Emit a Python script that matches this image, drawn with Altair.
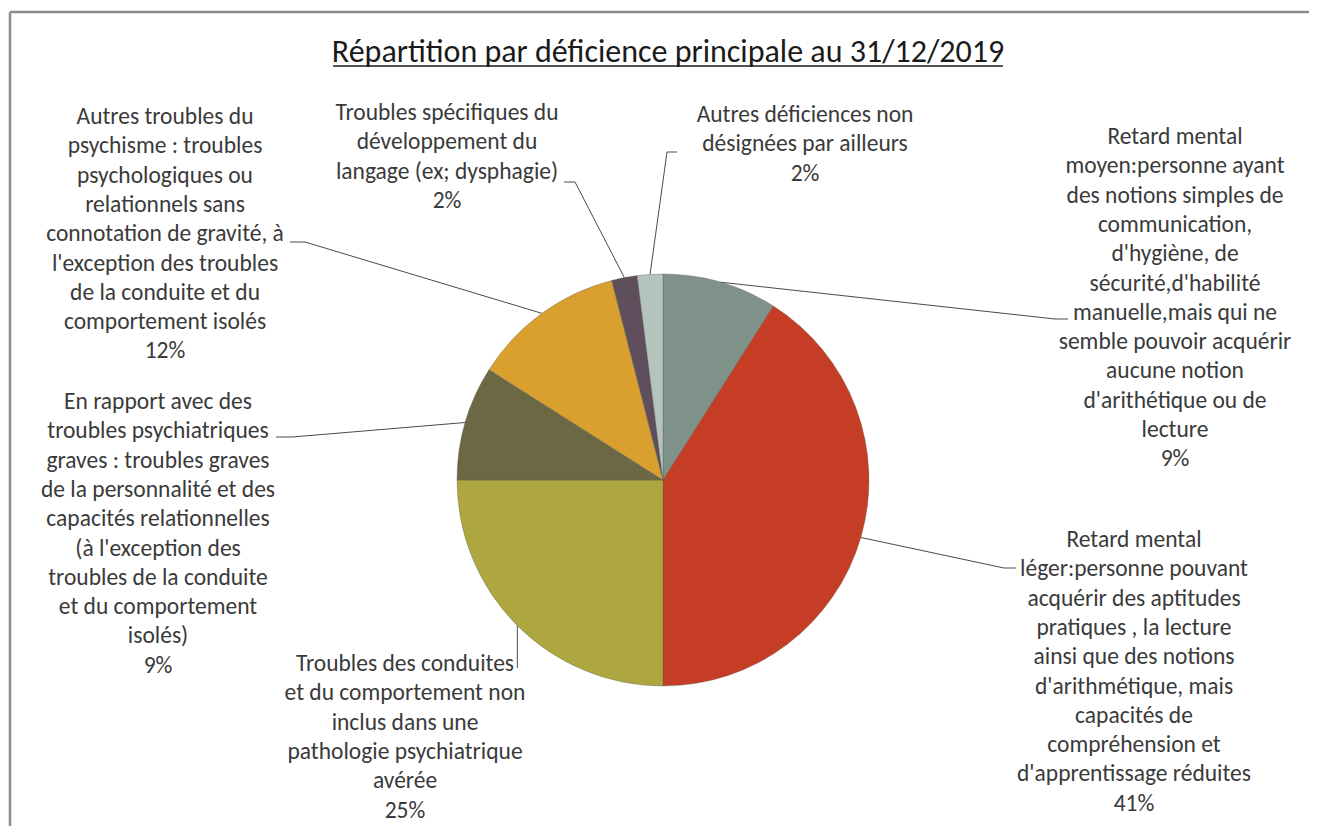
import altair as alt
import pandas as pd
import numpy as np

# ---------------- data ----------------
title_text = "Répartition par déficience principale au 31/12/2019"

categories = [
    "Retard mental\nmoyen:personne ayant\ndes notions simples de\ncommunication,\nd'hygiène, de\nsécurité,d'habilité\nmanuelle,mais qui ne\nsemble pouvoir acquérir\naucune notion\nd'arithétique ou de\nlecture",
    "Retard mental\nléger:personne pouvant\nacquérir des aptitudes\npratiques , la lecture\nainsi que des notions\nd'arithmétique, mais\ncapacités de\ncompréhension et\nd'apprentissage réduites",
    "Troubles des conduites\net du comportement non\ninclus dans une\npathologie psychiatrique\navérée",
    "En rapport avec des\ntroubles psychiatriques\ngraves : troubles graves\nde la personnalité et des\ncapacités relationnelles\n(à l'exception des\ntroubles de la conduite\net du comportement\nisolés)",
    "Autres troubles du\npsychisme : troubles\npsychologiques ou\nrelationnels sans\nconnotation de gravité, à\nl'exception  des troubles\nde la conduite et du\ncomportement isolés",
    "Troubles spécifiques du\ndéveloppement du\nlangage (ex; dysphagie)",
    "Autres déficiences non\ndésignées par ailleurs",
]
shares = [9, 41, 25, 9, 12, 2, 2]

# ---------------- style / layout ----------------
colors = ["#7f928a", "#c63d25", "#aea73f", "#6b6843", "#d9a030", "#5f4f5d", "#b4c3bb"]
FONT = "Carlito, Calibri, Lato, sans-serif"
W, H = 1301, 818
CX, CY, R = 655, 472, 206

# label position: centre x, first-line y (chart coords)
label_pos = [(1167, 129), (1126, 532), (397, 656), (150, 394), (157, 109), (439, 105), (797, 107)]
# leader elbow / end points (chart coords)
elbows = [(1047, 311), (996, 560), None, (284, 429), (297, 234), (567, 174), (659, 144)]
ends = [(1060, 311), (1008, 560), (None, 660), (268, 429), (282, 234), (556, 174), (669, 144)]

ids = [f"s{i}" for i in range(len(shares))]
pie_df = pd.DataFrame({"id": ids, "share": shares, "idx": range(len(shares))})

lab_df = pd.DataFrame({
    "id": ids,
    "text": [f"{c}\n{v}%" for c, v in zip(categories, shares)],
    "x": [p[0] for p in label_pos],
    "y": [p[1] for p in label_pos],
})

# leader lines: start at slice mid-angle on the rim
cum = np.cumsum(shares)
mid = (cum - np.array(shares) / 2) / 100 * 2 * np.pi
rows = []
for i, a in enumerate(mid):
    sx, sy = CX + R * np.sin(a), CY - R * np.cos(a)
    pts = [(sx, sy)]
    if elbows[i] is not None:
        pts.append(elbows[i])
    ex, ey = ends[i]
    if ex is None:
        ex = sx
    pts.append((ex, ey))
    for k, (px, py) in enumerate(pts):
        rows.append({"id": ids[i], "k": k, "x": px, "y": py})
lead_df = pd.DataFrame(rows)

pie = alt.Chart(pie_df).mark_arc(outerRadius=R, stroke="#5a5a50", strokeWidth=0.6, strokeOpacity=0.6).encode(
    theta=alt.Theta("share:Q", stack=True, scale=alt.Scale(domain=[0, 100], range=[0, 2 * np.pi])),
    color=alt.Color("id:N", scale=alt.Scale(domain=ids, range=colors), legend=None),
    order=alt.Order("idx:Q"),
    x=alt.value(CX),
    y=alt.value(CY),
)

leaders = alt.Chart(lead_df).mark_line(color="#4a4a4a", strokeWidth=1).encode(
    x=alt.X("x:Q", scale=None),
    y=alt.Y("y:Q", scale=None),
    detail="id:N",
    order="k:Q",
)

labels = alt.Chart(lab_df).mark_text(
    font=FONT, fontSize=23.5, lineHeight=29.3, lineBreak="\n",
    align="center", baseline="middle", color="#3a3a3a",
).encode(
    x=alt.X("x:Q", scale=None),
    y=alt.Y("y:Q", scale=None),
    text="text:N",
)

title = alt.Chart(pd.DataFrame({"t": [title_text]})).mark_text(
    font=FONT, fontSize=32, align="center", baseline="middle", color="#1a1a1a",
).encode(x=alt.value(660), y=alt.value(44), text="t:N")

underline = alt.Chart(pd.DataFrame({"a": [0]})).mark_rule(color="#1a1a1a", strokeWidth=1.5).encode(
    x=alt.value(325), x2=alt.value(995), y=alt.value(58)
)

frame_top = alt.Chart(pd.DataFrame({"a": [0]})).mark_rule(color="#8c8c8c", strokeWidth=2.5).encode(
    x=alt.value(2), x2=alt.value(W), y=alt.value(4)
)
frame_left = alt.Chart(pd.DataFrame({"a": [0]})).mark_rule(color="#8c8c8c", strokeWidth=2.5).encode(
    x=alt.value(2), y=alt.value(4), y2=alt.value(H)
)

chart = alt.layer(frame_top, frame_left, leaders, pie, labels, title, underline).properties(
    width=W, height=H, autosize="none", padding=0
).configure_view(stroke=None)

chart.save("out.html", embed_options={"renderer": "svg", "actions": False})
